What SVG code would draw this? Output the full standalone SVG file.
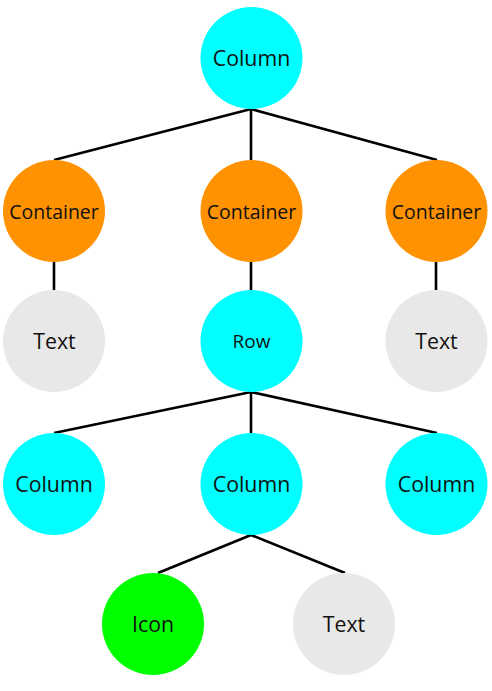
<svg xmlns="http://www.w3.org/2000/svg" width="492" height="691" viewBox="0 0 492 691">
<style>
.edge{stroke:#000;stroke-width:2.6;fill:none}
.cyan{fill:#00ffff}
.orange{fill:#ff9200}
.gray{fill:#e8e8e8}
.green{fill:#00ff00}
text{font-family:"Open Sans","Noto Sans","DejaVu Sans",sans-serif;fill:#111;text-anchor:middle}
.big{font-size:21.3px}
.mid{font-size:19.5px}
.small{font-size:19px}
</style>
<rect width="492" height="691" fill="#fff"/>
<g id="connectors">
<line class="edge" x1="251" y1="109" x2="54" y2="160"/>
<line class="edge" x1="251" y1="109" x2="251" y2="160"/>
<line class="edge" x1="251" y1="109" x2="437" y2="160"/>
<line class="edge" x1="54" y1="262" x2="54" y2="290"/>
<line class="edge" x1="251" y1="262" x2="251" y2="290"/>
<line class="edge" x1="436" y1="262" x2="436" y2="290"/>
<line class="edge" x1="251" y1="392" x2="54" y2="433"/>
<line class="edge" x1="251" y1="392" x2="251" y2="433"/>
<line class="edge" x1="251" y1="392" x2="437" y2="433"/>
<line class="edge" x1="251" y1="535" x2="158" y2="573"/>
<line class="edge" x1="251" y1="535" x2="345" y2="573"/>
</g>
<g id="n-column-root"><circle class="cyan" cx="251.5" cy="58" r="51"/><text class="big" x="251.5" y="65.7">Column</text></g>
<g id="n-container-1"><circle class="orange" cx="54" cy="211" r="51"/><text class="mid" x="54" y="219.3">Container</text></g>
<g id="n-container-2"><circle class="orange" cx="251.5" cy="211" r="51"/><text class="mid" x="251.5" y="219.3">Container</text></g>
<g id="n-container-3"><circle class="orange" cx="436.5" cy="211" r="51"/><text class="mid" x="436.5" y="219.3">Container</text></g>
<g id="n-text-1"><circle class="gray" cx="54" cy="341" r="51"/><text class="big" x="54.5" y="348.5">Text</text></g>
<g id="n-row"><circle class="cyan" cx="251.5" cy="341" r="51"/><text class="small" x="251.5" y="348">Row</text></g>
<g id="n-text-2"><circle class="gray" cx="436.5" cy="341" r="51"/><text class="big" x="436.5" y="348.5">Text</text></g>
<g id="n-column-1"><circle class="cyan" cx="54" cy="484" r="51"/><text class="big" x="54" y="491.7">Column</text></g>
<g id="n-column-2"><circle class="cyan" cx="251.5" cy="484" r="51"/><text class="big" x="251.5" y="491.7">Column</text></g>
<g id="n-column-3"><circle class="cyan" cx="436.5" cy="484" r="51"/><text class="big" x="436.5" y="491.7">Column</text></g>
<g id="n-icon"><circle class="green" cx="153" cy="624" r="51"/><text class="big" x="153" y="631.7">Icon</text></g>
<g id="n-text-3"><circle class="gray" cx="344" cy="624" r="51"/><text class="big" x="344" y="631.7">Text</text></g>
</svg>
